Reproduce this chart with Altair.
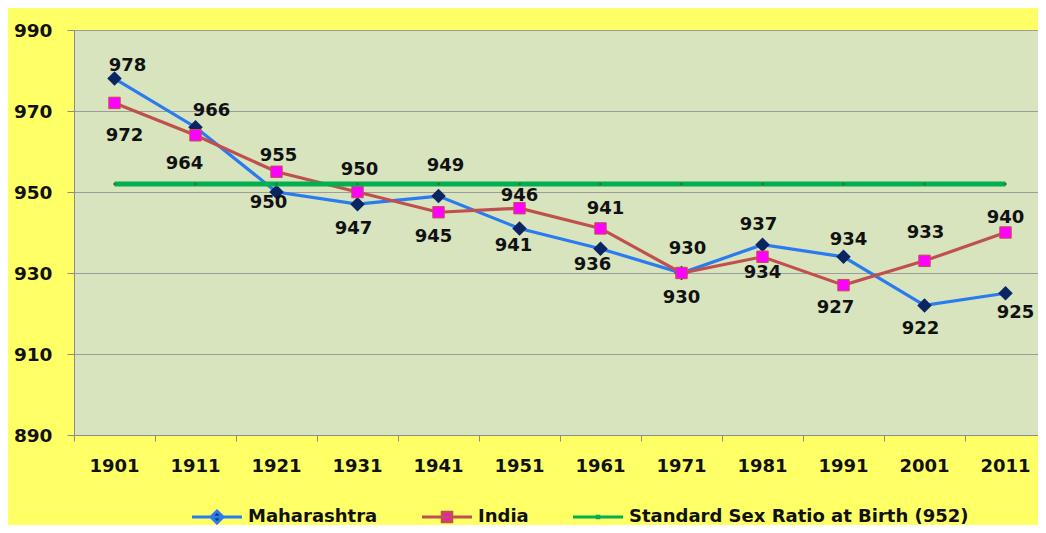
import altair as alt
import pandas as pd

years = ["1901", "1911", "1921", "1931", "1941", "1951", "1961", "1971", "1981", "1991", "2001", "2011"]
maharashtra = [978, 966, 950, 947, 949, 941, 936, 930, 937, 934, 922, 925]
india = [972, 964, 955, 950, 945, 946, 941, 930, 934, 927, 933, 940]
standard_value = 952
series_names = ["Maharashtra", "India", "Standard Sex Ratio at Birth (952)"]
y_ticks = [890, 910, 930, 950, 970, 990]

# data-label placement (pixel nudges, like Excel's manually moved labels)
maha_dx = [13, 16, -8, -4, 7, -6, -8, 6, -4, 5, -4, 10]
maha_dy = [-13, -16, 11, 25, -30, 18, 16, -24, -20, -17, 24, 20]
india_dx = [10, -11, 2, 2, -5, 0, 5, 0, 0, -8, 1, 0]
india_dy = [33, 29, -16, -22, 25, -12, -19, 25, 16, 23, -28, -15]

FONT = "DejaVu Sans"
BLUE = "#2A7BF0"
NAVY = "#0B2462"
RED = "#C0504D"
MAGENTA = "#FF00FF"
GREEN = "#00B050"

df_m = pd.DataFrame({"year": years, "value": maharashtra, "series": series_names[0]})
df_i = pd.DataFrame({"year": years, "value": india, "series": series_names[1]})
df_s = pd.DataFrame({"year": years, "value": [standard_value] * len(years), "series": series_names[2]})
# legend-only entries (kept outside the visible y-range, clipped)
df_leg = pd.DataFrame({"year": years[:3], "value": [800] * 3, "series": series_names})

x_enc = alt.X(
    "year:O",
    sort=years,
    scale=alt.Scale(type="band", paddingInner=0, paddingOuter=0),
    axis=alt.Axis(
        title=None, labelAngle=0, bandPosition=0, ticks=True, tickSize=6, tickColor="#8C8C8C",
        domainColor="#8C8C8C", labelFont=FONT, labelFontSize=18, labelFontWeight="bold",
        labelColor="#111111", labelPadding=16, grid=False,
    ),
)
y_enc = alt.Y(
    "value:Q",
    scale=alt.Scale(domain=[890, 990], nice=False, zero=False),
    axis=alt.Axis(
        title=None, values=y_ticks, grid=True, gridColor="#9C9C9C", gridWidth=1.2,
        tickColor="#8C8C8C", tickSize=7, domainColor="#8C8C8C", labelFont=FONT,
        labelFontSize=18.5, labelFontWeight="bold", labelColor="#111111", labelPadding=15,
    ),
)

legend = alt.Legend(
    title=None, orient="none", direction="horizontal", legendX=134, legendY=478,
    labelFont=FONT, labelFontSize=18, labelFontWeight="bold", labelColor="#111111",
    labelLimit=0, gridAlign="none",
    symbolSize=100, symbolStrokeWidth=3, labelOffset=22, columnPadding=38,
)
color_enc = alt.Color("series:N", scale=alt.Scale(domain=series_names, range=[BLUE, RED, GREEN]), legend=legend)
fill_enc = alt.Fill("series:N", scale=alt.Scale(domain=series_names, range=[NAVY, MAGENTA, GREEN]), legend=legend)
shape_enc = alt.Shape(
    "series:N",
    scale=alt.Scale(domain=series_names, range=[
        "M-5,0H5M0,-1.2L1.2,0L0,1.2L-1.2,0Z",
        "M-5,0H5M-0.95,-0.95H0.95V0.95H-0.95Z",
        "M-5,0H5M-0.15,-0.15H0.15V0.15H-0.15Z",
    ]),
    legend=legend,
)

line_m = alt.Chart(df_m).mark_line(strokeWidth=3.2).encode(x=x_enc, y=y_enc, color=color_enc)
pts_m = alt.Chart(df_m).mark_point(shape="diamond", size=210, filled=True, color=NAVY, opacity=1).encode(x=x_enc, y=y_enc)
line_i = alt.Chart(df_i).mark_line(strokeWidth=3.2).encode(x=x_enc, y=y_enc, color=color_enc)
pts_i = alt.Chart(df_i).mark_point(shape="square", size=130, filled=True, fill=MAGENTA, stroke=RED, strokeWidth=1, opacity=1).encode(x=x_enc, y=y_enc)
line_s = alt.Chart(df_s).mark_line(strokeWidth=5).encode(x=x_enc, y=y_enc, color=color_enc)
pts_s = alt.Chart(df_s).mark_point(shape="circle", size=6, filled=True, color="#4F6228", opacity=1).encode(x=x_enc, y=y_enc)
leg_pts = alt.Chart(df_leg).mark_point(clip=True, size=100, strokeWidth=3, opacity=1).encode(
    x=x_enc, y=y_enc, color=color_enc, fill=fill_enc, shape=shape_enc
)

label_layers = []
for df, dxs, dys in [(df_m, maha_dx, maha_dy), (df_i, india_dx, india_dy)]:
    for i in range(len(years)):
        label_layers.append(
            alt.Chart(df.iloc[[i]]).mark_text(
                dx=dxs[i], dy=dys[i], font=FONT, fontSize=18, fontWeight="bold",
                color="#111111", baseline="middle", align="center",
            ).encode(x=x_enc, y=y_enc, text=alt.Text("value:Q"))
        )

chart = alt.layer(leg_pts, line_m, pts_m, line_i, pts_i, line_s, pts_s, *label_layers).properties(
    width=972, height=405,
    autosize=alt.AutoSizeParams(type="none"),
    padding={"left": 66, "top": 22, "right": -8, "bottom": 90},
    background="#FFFF66",
).configure_view(
    fill="#D7E4BD", stroke=None,
)

chart.save("out.html", embed_options={"renderer": "svg", "actions": False})
